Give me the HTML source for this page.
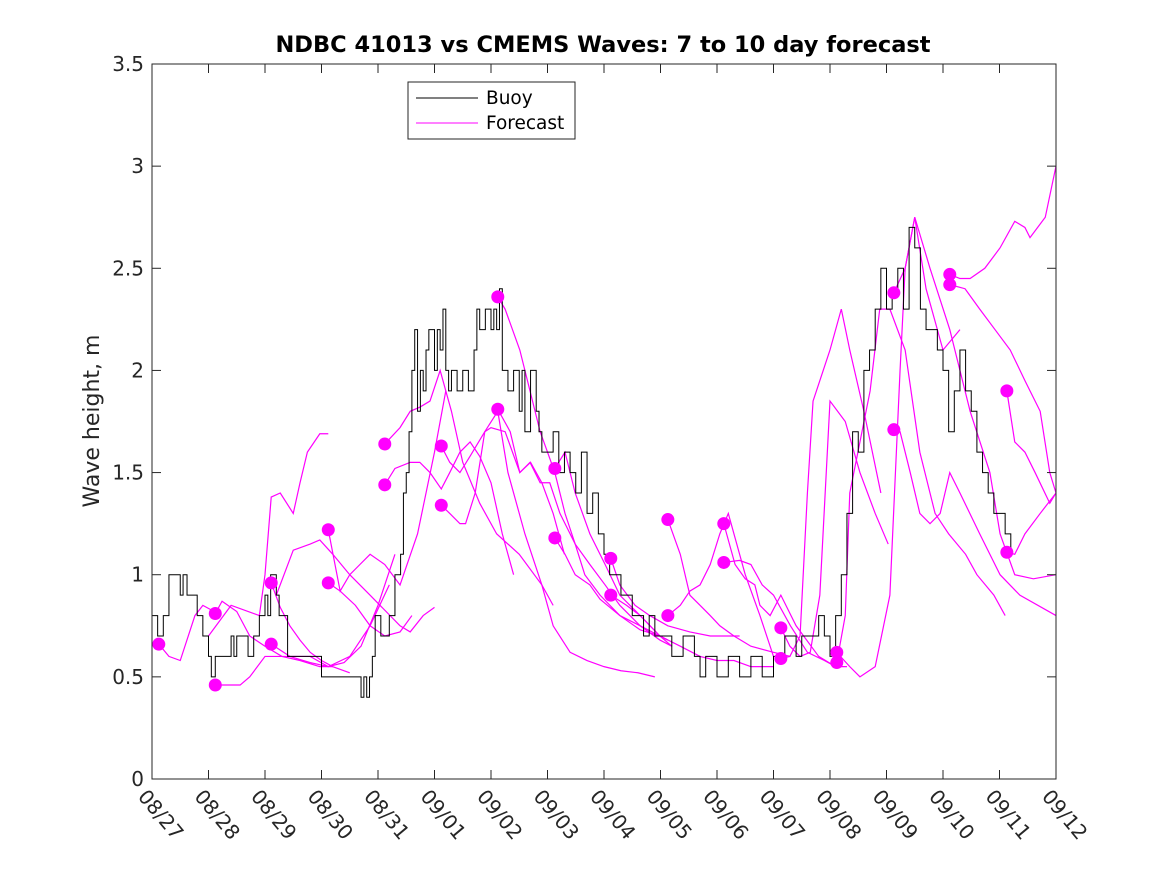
<!DOCTYPE html>
<html><head><meta charset="utf-8"><style>
body{margin:0;background:#fff;}
svg{display:block;font-family:"DejaVu Sans","Liberation Sans",sans-serif;}
</style></head><body>
<svg id="chart" width="1167" height="875" viewBox="0 0 1167 875">
<rect x="0" y="0" width="1167" height="875" fill="#fff"/>
<rect x="152" y="64" width="904" height="715" fill="#fff" stroke="none"/>
<g id="series" fill="none"></g>
<rect x="152" y="64" width="904" height="715" fill="none" stroke="#262626" stroke-width="1"/>
<g id="ticks"></g>
<text x="603" y="52" text-anchor="middle" font-size="22.5" font-weight="bold" fill="#000">NDBC 41013 vs CMEMS Waves: 7 to 10 day forecast</text>
<text transform="translate(99,421) rotate(-90)" text-anchor="middle" font-size="22" fill="#262626">Wave height, m</text>
<g>
<rect x="408" y="82" width="167" height="57" fill="#fff" stroke="#262626" stroke-width="1"/>
<line x1="416" y1="98" x2="478" y2="98" stroke="#000" stroke-width="1"/>
<text x="486" y="104" font-size="18.5" fill="#000">Buoy</text>
<line x1="416" y1="123" x2="478" y2="123" stroke="#f0f" stroke-width="1"/>
<text x="486" y="129" font-size="18.5" fill="#000">Forecast</text>
</g>
</svg>
<script>
const xTickLabels=["08/27","08/28","08/29","08/30","08/31","09/01","09/02","09/03","09/04","09/05","09/06","09/07","09/08","09/09","09/10","09/11","09/12"];
const yTicks=[0,0.5,1,1.5,2,2.5,3,3.5];
const buoyDays=[0,0.1,0.2,0.3,0.4,0.5,0.55,0.62,0.7,0.8,0.9,1.0,1.05,1.12,1.18,1.3,1.4,1.45,1.5,1.6,1.7,1.8,1.9,2.0,2.05,2.1,2.2,2.25,2.3,2.4,2.45,2.55,2.6,2.8,3.0,3.2,3.3,3.5,3.7,3.75,3.8,3.85,3.9,3.95,4.0,4.05,4.2,4.3,4.4,4.45,4.5,4.55,4.6,4.65,4.7,4.75,4.8,4.85,4.9,5.0,5.05,5.1,5.15,5.2,5.25,5.3,5.4,5.5,5.6,5.7,5.75,5.8,5.85,5.9,6.0,6.05,6.1,6.15,6.2,6.3,6.4,6.5,6.55,6.6,6.7,6.8,6.85,6.9,7.0,7.1,7.2,7.3,7.4,7.5,7.6,7.7,7.8,7.9,8.0,8.1,8.2,8.3,8.4,8.5,8.6,8.7,8.8,8.9,9.0,9.2,9.4,9.5,9.6,9.7,9.8,10.0,10.2,10.4,10.6,10.8,10.9,11.0,11.2,11.4,11.5,11.6,11.7,11.8,11.9,12.0,12.1,12.2,12.3,12.4,12.5,12.6,12.7,12.8,12.9,13.0,13.1,13.2,13.3,13.4,13.5,13.6,13.7,13.8,13.9,14.0,14.1,14.2,14.3,14.4,14.5,14.6,14.7,14.8,14.9,15.0,15.1,15.2];
const buoyVals=[0.8,0.7,0.8,1.0,1.0,0.9,1.0,0.9,0.9,0.8,0.7,0.6,0.5,0.6,0.6,0.6,0.7,0.6,0.7,0.7,0.6,0.7,0.8,0.9,0.8,1.0,0.9,0.8,0.8,0.6,0.6,0.6,0.6,0.6,0.5,0.5,0.5,0.5,0.4,0.5,0.4,0.5,0.6,0.8,0.8,0.7,0.8,1.0,1.1,1.4,1.5,1.7,2.0,2.2,1.8,2.0,1.9,2.1,2.2,2.0,2.2,2.1,2.3,2.0,1.9,2.0,1.9,2.0,1.9,2.1,2.3,2.2,2.2,2.3,2.2,2.3,2.2,2.4,2.0,1.9,2.0,1.8,2.0,1.7,2.0,1.8,1.7,1.6,1.6,1.7,1.5,1.6,1.5,1.4,1.6,1.3,1.4,1.2,1.1,1.0,1.0,0.9,0.9,0.8,0.8,0.7,0.8,0.7,0.7,0.6,0.7,0.7,0.6,0.5,0.6,0.5,0.6,0.5,0.6,0.5,0.5,0.6,0.7,0.6,0.7,0.7,0.7,0.8,0.7,0.6,0.8,1.0,1.3,1.7,1.6,2.0,2.1,2.3,2.5,2.3,2.4,2.5,2.3,2.7,2.6,2.3,2.2,2.2,2.1,2.0,1.7,1.9,2.1,1.9,1.8,1.6,1.5,1.4,1.3,1.3,1.2,1.1,1.2,1.3];
const fcDays=[
[0.12,0.3,0.5,0.76,0.9,1.1],
[1.12,1.24,1.5,1.73,2.0,2.3,2.62,2.97,3.2],
[1.12,1.56,1.73,2.0,2.44,2.8,3.12,3.5,3.86,4.2],
[1.0,1.4,1.9,2.0,2.11,2.27,2.5,2.62,2.75,2.97,3.12],
[2.11,2.27,2.44,2.62,2.8,3.0,3.2,3.5],
[2.11,2.44,2.8,3.12,3.4,3.7,4.0,4.3],
[2.2,2.5,2.8,2.97,3.2,3.5,3.86,4.39,4.57,4.8,5.0],
[3.12,3.33,3.5,3.68,3.86,4.12,4.39,4.7,5.0,5.2],
[3.12,3.33,3.6,3.86,4.12,4.39,4.6],
[4.12,4.39,4.57,4.74,4.92,5.1,5.3,5.5,5.8,6.1,6.5,6.9,7.1],
[4.12,4.3,4.57,4.74,4.92,5.12,5.27,5.45,5.63,5.8,6.0,6.2,6.4],
[5.12,5.27,5.45,5.63,5.89,6.0,6.25,6.51,6.7,6.9,7.1,7.3],
[5.12,5.27,5.45,5.55,5.72,5.89,6.12,6.3,6.6,6.9,7.1,7.4,7.7,8.0,8.3,8.6,8.9],
[6.12,6.25,6.51,6.69,6.87,7.13,7.31,7.49,7.66,7.93,8.28,8.64,8.99,9.13],
[6.12,6.34,6.51,6.69,6.87,7.04,7.22,7.49,7.75,8.02,8.28,8.64,8.99,9.2],
[7.13,7.31,7.49,7.75,8.02,8.28,8.64,8.99,9.13],
[7.13,7.31,7.49,7.75,7.93,8.28,8.64,8.99,9.2],
[8.12,8.28,8.55,8.81,9.13,9.52,9.88,10.1,10.4],
[8.12,8.4,8.64,8.99,9.35,9.7,10.0,10.3,10.6,11.0],
[9.13,9.35,9.52,9.7,9.88,10.05,10.3,10.6,11.0,11.3],
[9.13,9.35,9.52,9.7,9.88,10.05,10.2,10.5,10.76,11.0],
[10.12,10.32,10.5,10.67,10.76,10.94,11.13,11.4,11.8,12.1],
[10.12,10.4,10.6,10.8,11.0,11.3,11.6,11.9,12.1,12.3],
[11.13,11.29,11.47,11.65,11.82,12.0,12.27,12.53,12.8,13.03],
[11.13,11.29,11.47,11.6,11.7,12.0,12.2,12.35,12.6,12.9],
[12.12,12.35,12.53,12.8,13.06,13.24,13.33,13.5,13.7,14.0,14.3],
[12.12,12.27,12.35,12.71,12.88,13.06,13.33,13.59,13.86,14.1,14.4,14.6,14.9,15.1],
[13.13,13.33,13.5,13.77,14.12,14.48,14.83,15.01,15.27,15.6,16.0],
[13.13,13.24,13.42,13.59,13.77,13.95,14.12,14.3,14.65,15.01,15.36,16.0],
[14.12,14.3,14.48,14.74,15.01,15.27,15.45,15.54,15.81,16.0],
[14.12,14.39,14.65,14.92,15.19,15.45,15.72,15.89,16.0],
[15.13,15.27,15.45,15.63,15.89,16.0],
[15.13,15.27,15.45,15.72,16.0]
];
const fcVals=[
[0.66,0.6,0.58,0.8,0.85,0.82],
[0.81,0.87,0.82,0.7,0.65,0.6,0.58,0.55,0.55],
[0.46,0.46,0.5,0.6,0.6,0.57,0.55,0.6,0.75,0.95],
[0.7,0.85,0.8,1.0,1.38,1.4,1.3,1.45,1.6,1.69,1.69],
[0.96,0.84,0.75,0.68,0.62,0.58,0.55,0.52],
[0.66,0.6,0.6,0.55,0.57,0.65,0.85,1.1],
[0.9,1.12,1.15,1.17,1.1,1.0,0.9,0.75,0.72,0.8,0.84],
[1.22,0.92,1.0,1.05,1.1,1.05,0.95,1.2,1.6,1.9],
[0.96,0.92,0.85,0.75,0.7,0.72,0.8],
[1.64,1.72,1.8,1.82,1.85,2.0,1.8,1.55,1.35,1.2,1.1,0.95,0.85],
[1.44,1.52,1.55,1.55,1.5,1.42,1.5,1.6,1.65,1.58,1.45,1.2,1.0],
[1.63,1.55,1.5,1.58,1.7,1.72,1.7,1.5,1.55,1.45,1.3,1.1],
[1.34,1.3,1.25,1.25,1.4,1.7,1.8,1.5,1.2,0.95,0.75,0.62,0.58,0.55,0.53,0.52,0.5],
[2.36,2.3,2.1,1.9,1.7,1.5,1.3,1.15,1.0,0.9,0.8,0.75,0.7,0.68],
[1.81,1.7,1.5,1.55,1.45,1.45,1.3,1.15,1.05,0.95,0.85,0.75,0.68,0.65],
[1.52,1.6,1.4,1.2,1.05,0.9,0.8,0.7,0.68],
[1.18,1.1,1.0,0.95,0.88,0.8,0.73,0.7,0.65],
[1.08,0.95,0.85,0.8,0.75,0.72,0.7,0.7,0.7],
[0.9,0.85,0.8,0.7,0.65,0.6,0.58,0.58,0.55,0.55],
[1.27,1.1,0.9,0.85,0.8,0.75,0.7,0.65,0.62,0.6],
[0.8,0.85,0.92,0.95,1.05,1.2,1.3,1.0,0.8,0.6],
[1.25,1.05,0.98,0.95,0.85,0.8,0.9,0.75,0.6,0.55],
[1.06,1.07,1.05,0.95,0.9,0.75,0.62,0.58,0.55,0.55],
[0.74,0.65,0.6,0.62,0.9,1.85,1.75,1.5,1.3,1.15],
[0.59,0.6,0.7,1.4,1.85,2.1,2.3,2.1,1.8,1.4],
[0.62,0.55,0.5,0.55,0.9,2.0,2.5,2.75,2.4,2.1,2.2],
[0.57,0.8,1.4,1.9,2.3,2.3,2.1,1.6,1.3,1.2,1.1,1.0,0.9,0.8],
[2.38,2.5,2.75,2.5,2.2,1.8,1.5,1.2,1.0,0.98,1.0],
[1.71,1.7,1.5,1.3,1.25,1.3,1.5,1.4,1.2,1.0,0.9,0.8],
[2.47,2.45,2.45,2.5,2.6,2.73,2.7,2.65,2.75,3.0],
[2.42,2.4,2.3,2.2,2.1,1.95,1.8,1.5,1.4],
[1.9,1.65,1.6,1.5,1.35,1.4],
[1.11,1.1,1.2,1.3,1.4]
];
const NS="http://www.w3.org/2000/svg";
const X0=152,X1=1056,Y0=779,Y1=64,DMAX=16,VMAX=3.5;
function xs(d){return X0+(X1-X0)*d/DMAX;}
function ys(v){return Y0-(Y0-Y1)*v/VMAX;}
const ticks=document.getElementById('ticks');
const series=document.getElementById('series');
xTickLabels.forEach((lab,i)=>{
  const x=xs(i);
  const l=document.createElementNS(NS,'line');
  l.setAttribute('x1',x);l.setAttribute('x2',x);l.setAttribute('y1',Y0);l.setAttribute('y2',Y0-9);
  l.setAttribute('stroke','#262626');
  
  
  ticks.appendChild(l);
  const l2=l.cloneNode();l2.setAttribute('y1',Y1);l2.setAttribute('y2',Y1+9);ticks.appendChild(l2);
  const t=document.createElementNS(NS,'text');
  t.setAttribute('transform',`translate(${x-15},${Y0+18}) rotate(50)`);
  t.setAttribute('font-size','20');t.setAttribute('fill','#262626');
  t.textContent=lab;
  
  
  ticks.appendChild(t);
});
yTicks.forEach(v=>{
  const y=ys(v);
  const l=document.createElementNS(NS,'line');
  l.setAttribute('x1',X0);l.setAttribute('x2',X0+9);l.setAttribute('y1',y);l.setAttribute('y2',y);
  l.setAttribute('stroke','#262626');
  
  
  ticks.appendChild(l);
  const l2=l.cloneNode();l2.setAttribute('x1',X1);l2.setAttribute('x2',X1-9);ticks.appendChild(l2);
  const t=document.createElementNS(NS,'text');
  t.setAttribute('x',X0-8);t.setAttribute('y',y+7);t.setAttribute('text-anchor','end');
  t.setAttribute('font-size','20');t.setAttribute('fill','#262626');
  t.textContent=String(v);
  
  
  ticks.appendChild(t);
});
fcDays.forEach((ds,k)=>{
  const vs=fcVals[k];
  const p=document.createElementNS(NS,'polyline');
  p.setAttribute('points',ds.map((d,i)=>xs(d)+','+ys(vs[i])).join(' '));
  p.setAttribute('stroke','#f0f');p.setAttribute('stroke-width','1.2');p.setAttribute('fill','none');
  
  
  series.appendChild(p);
});
let pts=[];
buoyDays.forEach((d,i)=>{
  if(i>0)pts.push(xs(d)+','+ys(buoyVals[i-1]));
  pts.push(xs(d)+','+ys(buoyVals[i]));
});
const bp=document.createElementNS(NS,'polyline');
bp.setAttribute('points',pts.join(' '));
bp.setAttribute('stroke','#000');bp.setAttribute('stroke-width','1');bp.setAttribute('fill','none');


series.appendChild(bp);
fcDays.forEach((ds,k)=>{
  const frac=ds[0]%1;
  if(frac>0.1&&frac<0.15){
    const c=document.createElementNS(NS,'circle');
    c.setAttribute('cx',xs(ds[0]));c.setAttribute('cy',ys(fcVals[k][0]));c.setAttribute('r','6.5');
    c.setAttribute('fill','#f0f');
    
    
    series.appendChild(c);
  }
});
</script>
</body></html>
